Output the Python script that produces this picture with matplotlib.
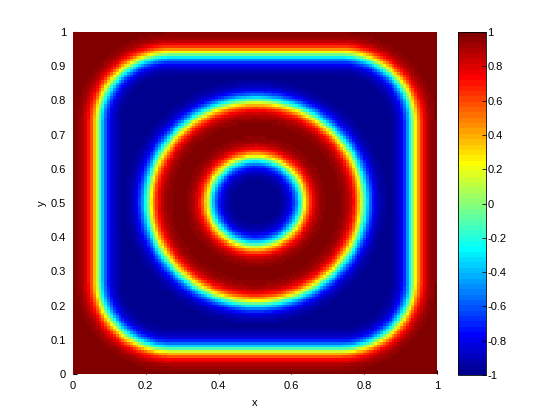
import numpy as np
import matplotlib
matplotlib.use("Agg")
import matplotlib.pyplot as plt
from matplotlib.colors import ListedColormap

plt.rcParams['font.family'] = ['Liberation Sans', 'DejaVu Sans']
plt.rcParams['font.size'] = 8

# ---- data: geometry of the phase field ----
grid_n = 128                      # cells per side
center = (0.502, 0.503)           # centre of rings and square
inner_radius = 0.128              # inner blue disk interface
ring_radius = 0.295               # outer edge of red annulus
square_half = 0.432               # half width of rounded square interface
corner_radius = 0.2               # rounding of square corners
interface_w = 0.03                # tanh interface width

x_ticks = [0, 0.2, 0.4, 0.6, 0.8, 1]
x_ticklabels = ['0', '0.2', '0.4', '0.6', '0.8', '1']
y_ticks = [0, 0.1, 0.2, 0.3, 0.4, 0.5, 0.6, 0.7, 0.8, 0.9, 1]
y_ticklabels = ['0', '0.1', '0.2', '0.3', '0.4', '0.5', '0.6', '0.7', '0.8', '0.9', '1']
cb_ticks = [-1, -0.8, -0.6, -0.4, -0.2, 0, 0.2, 0.4, 0.6, 0.8, 1]
cb_ticklabels = ['-1', '-0.8', '-0.6', '-0.4', '-0.2', '0', '0.2', '0.4', '0.6', '0.8', '1']


def matlab_jet(n=64):
    m = int(np.ceil(n / 4))
    u = np.concatenate([np.arange(1, m + 1) / m, np.ones(m - 1), np.arange(m, 0, -1) / m])
    g = int(np.ceil(m / 2)) - (1 if n % 4 == 1 else 0) + np.arange(1, len(u) + 1)
    r = g + m
    b = g - m
    J = np.zeros((n, 3))
    ok = r <= n
    J[r[ok] - 1, 0] = u[ok]
    ok = (g >= 1) & (g <= n)
    J[g[ok] - 1, 1] = u[ok]
    ok = b >= 1
    J[b[ok] - 1, 2] = u[ok]
    return ListedColormap(J)


edges = np.linspace(0, 1, grid_n + 1)
cent = (edges[:-1] + edges[1:]) / 2
X, Y = np.meshgrid(cent, cent)
dx = X - center[0]
dy = Y - center[1]
r = np.hypot(dx, dy)
u_rings = np.tanh((r - inner_radius) / interface_w) * np.tanh((ring_radius - r) / interface_w)
qx = np.abs(dx) - (square_half - corner_radius)
qy = np.abs(dy) - (square_half - corner_radius)
d_out = np.hypot(np.maximum(qx, 0), np.maximum(qy, 0)) + np.minimum(np.maximum(qx, qy), 0) - corner_radius
u_outer = np.tanh(d_out / interface_w)
U = np.maximum(u_rings, u_outer)

fig = plt.figure(figsize=(5.6, 4.2), dpi=100)
ax = fig.add_axes([73 / 560, 1 - 374 / 420, 364 / 560, 342 / 420])
cax = fig.add_axes([458 / 560, 1 - 375 / 420, 28 / 560, 343 / 420])

cmap = matlab_jet(64)
mesh = ax.pcolormesh(edges, edges, U, cmap=cmap, vmin=-1, vmax=1, shading='flat', zorder=1)
ax.set_xlim(0, 1)
ax.set_ylim(0, 1)
ax.set_xticks(x_ticks)
ax.set_xticklabels(x_ticklabels)
ax.set_yticks(y_ticks)
ax.set_yticklabels(y_ticklabels)
ax.set_axisbelow(True)
ax.tick_params(direction='in', length=3, pad=5, colors='black')
for s in ax.spines.values():
    s.set_visible(False)
ax.set_xlabel('x', labelpad=5)
ax.set_ylabel('y', labelpad=3)

cb = fig.colorbar(mesh, cax=cax)
cb.set_ticks(cb_ticks)
cb.set_ticklabels(cb_ticklabels)
cb.ax.tick_params(direction='in', length=3, pad=1, width=0.6)
cb.outline.set_linewidth(0.6)

fig.savefig('out.png', dpi=100)
